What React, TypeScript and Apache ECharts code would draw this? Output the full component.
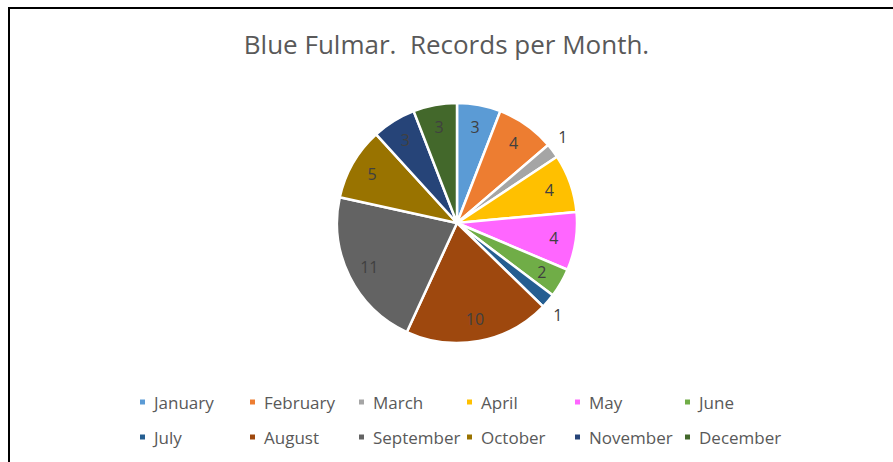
import React, { useEffect, useRef } from "react";
import * as echarts from "echarts";

const months = ["January","February","March","April","May","June","July","August","September","October","November","December"];
const records = [3, 4, 1, 4, 4, 2, 1, 10, 11, 5, 3, 3];
const colors = ["#5B9BD5","#ED7D31","#A5A5A5","#FFC000","#FF66FF","#70AD47","#255E91","#9E480E","#636363","#997300","#264478","#43682B"];
const outsideLabels = ["March", "July"];
const titleText = "Blue Fulmar.  Records per Month.";

const FONT = "'Open Sans', sans-serif";
const legendCols = [138, 248, 357, 465, 573, 683];
const legendRows = [392, 427];

export default function App() {
  const ref = useRef<HTMLDivElement>(null);
  useEffect(() => {
    if (!ref.current) return;
    const chart = echarts.init(ref.current, null, { renderer: "svg" });
    const center = [457, 223];
    const R = 120;
    const legends = months.map((m, i) => ({
      orient: "horizontal",
      left: legendCols[i % 6],
      top: legendRows[Math.floor(i / 6)],
      padding: 0,
      itemWidth: 7,
      itemHeight: 7,
      itemGap: 0,
      icon: "rect",
      textStyle: { fontFamily: FONT, fontSize: 17, color: "#595959", lineHeight: 20, padding: [0, 0, 0, 3] },
      data: [m],
    }));
    chart.setOption({
      animation: false,
      backgroundColor: "#ffffff",
      color: colors,
      title: {
        text: titleText,
        left: "center",
        top: 26,
        textStyle: { fontFamily: FONT, fontSize: 26, fontWeight: "normal", color: "#595959" },
      },
      legend: legends,
      series: [
        {
          type: "pie",
          center,
          radius: [0, R],
          startAngle: 90,
          clockwise: true,
          avoidLabelOverlap: false,
          label: { show: false },
          labelLine: { show: false },
          itemStyle: { borderColor: "#ffffff", borderWidth: 2.5 },
          emphasis: { disabled: true },
          data: months.map((m, i) => ({ name: m, value: records[i] })),
        },
        {
          type: "pie",
          center,
          radius: [70, R],
          startAngle: 90,
          clockwise: true,
          avoidLabelOverlap: false,
          silent: true,
          legendHoverLink: false,
          itemStyle: { color: "rgba(0,0,0,0)", borderWidth: 0 },
          emphasis: { disabled: true },
          label: { show: true, position: "inside", formatter: "{c}", fontFamily: FONT, fontSize: 16, color: "#404040" },
          labelLine: { show: false },
          labelLayout: (params: any) => {
            if (params.dataIndex === 2) return { dx: -3, dy: -9 };
            if (params.dataIndex === 6) return { dx: -3, dy: 9 };
            return {};
          },
          data: months.map((m, i) => {
            const item: any = { name: m + " ", value: records[i] };
            if (outsideLabels.includes(m)) {
              item.label = { position: "outside", distanceToLabelLine: 2, color: "#404040", fontFamily: FONT, fontSize: 16 };
              item.labelLine = { show: false, length: 8, length2: 0 };
            }
            return item;
          }),
        },
      ],
      graphic: [
        { type: "line", shape: { x1: 9, y1: 8, x2: 893, y2: 8 }, style: { stroke: "#000", lineWidth: 2 } },
        { type: "line", shape: { x1: 9, y1: 7, x2: 9, y2: 462 }, style: { stroke: "#000", lineWidth: 2 } },
      ],
    });
    return () => chart.dispose();
  }, []);
  return <div ref={ref} style={{ position: "fixed", left: 0, top: 0, width: 893, height: 462 }} />;
}
